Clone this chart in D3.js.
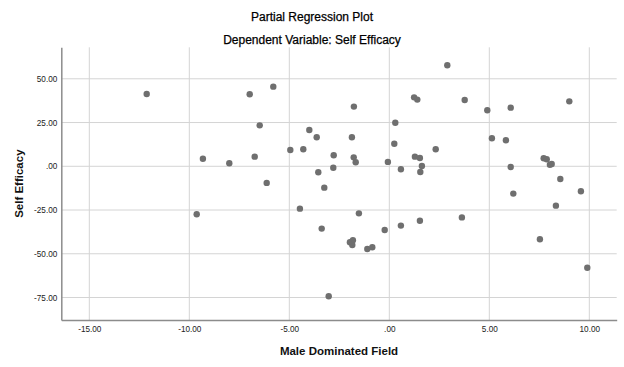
<!DOCTYPE html>
<html><head><meta charset="utf-8">
<script src="https://cdn.jsdelivr.net/npm/d3@7/dist/d3.min.js"></script>
<style>body{margin:0;background:#fff}svg{display:block}</style>
</head><body>
<script>
const xVals = [-12.13,-9.63,-6.98,-5.80,-1.77,-6.48,-4.00,-3.63,-1.87,0.30,0.25,-4.95,-4.30,-2.78,-1.78,-1.68,-0.07,-9.32,-8.00,-6.73,-2.80,-3.55,-6.13,-3.25,0.58,-4.47,-1.52,-3.38,-0.23,-1.97,-1.82,-1.85,-1.10,-0.85,-3.03,2.90,1.24,1.40,3.77,4.90,6.07,9.00,5.13,5.83,2.32,1.28,1.53,1.63,1.55,6.07,7.72,7.87,8.03,8.12,8.55,9.58,6.20,8.33,0.58,1.53,3.63,7.53,9.90];
const yVals = [41.3,-27.4,41.2,45.5,34.1,23.4,20.7,16.6,16.6,24.9,12.9,9.3,9.7,6.3,5.1,2.3,2.5,4.3,1.7,5.5,-0.8,-3.4,-9.5,-12.2,-1.7,-24.2,-26.9,-35.6,-36.4,-43.4,-42.3,-45.0,-47.3,-46.3,-74.3,57.7,39.4,38.1,37.9,32.0,33.5,37.1,16.0,14.9,9.7,5.5,4.7,0.2,-3.3,-0.4,4.6,4.0,0.9,1.3,-7.3,-14.3,-15.6,-22.5,-33.9,-31.1,-29.2,-41.7,-58.0];
const xTicks = [-15,-10,-5,0,5,10];
const yTicks = [-75,-50,-25,0,25,50];
const titleText = "Partial Regression Plot";
const subtitleText = "Dependent Variable: Self Efficacy";
const xLabel = "Male Dominated Field";
const yLabel = "Self Efficacy";

const W = 624, H = 367;
const L = 61.3, R = 616.7, T = 47.3, B = 320;
const svg = d3.select("body").append("svg").attr("width", W).attr("height", H)
  .style("font-family", "'Liberation Sans', Arial, sans-serif");

const x = d3.scaleLinear().domain([-16.4, 11.37]).range([L, R]);
const y = d3.scaleLinear().domain([-87.85, 68.0]).range([B, T]);

const fmt = v => { let s = Math.abs(v).toFixed(2); if (s.startsWith("0")) s = s.slice(1); return (v < 0 ? "-" : "") + s; };

// grid
svg.append("g").selectAll("line").data(xTicks).join("line")
  .attr("x1", d => x(d)).attr("x2", d => x(d)).attr("y1", T).attr("y2", B)
  .attr("stroke", "#d4d4d4").attr("stroke-width", 1);
svg.append("g").selectAll("line").data(yTicks).join("line")
  .attr("x1", L).attr("x2", R).attr("y1", d => y(d)).attr("y2", d => y(d))
  .attr("stroke", "#d4d4d4").attr("stroke-width", 1);

// axes
const xAxis = svg.append("g").attr("transform", `translate(0,${B})`)
  .call(d3.axisBottom(x).tickValues(xTicks).tickFormat(fmt).tickSize(0).tickPadding(6));
const yAxis = svg.append("g").attr("transform", `translate(${L},0)`)
  .call(d3.axisLeft(y).tickValues(yTicks).tickFormat(fmt).tickSize(0).tickPadding(4));
[xAxis, yAxis].forEach(g => {
  g.select(".domain").attr("stroke", "#8c8c8c").attr("stroke-width", 1.5);
  g.selectAll("text").attr("font-size", 8.2).attr("fill", "#222").style("font-family", "'Liberation Sans', Arial, sans-serif");
});

// points
svg.append("g").selectAll("circle").data(xVals.map((v, i) => [v, yVals[i]])).join("circle")
  .attr("cx", d => x(d[0])).attr("cy", d => y(d[1])).attr("r", 3.2)
  .attr("fill", "#6f6f6f");

// titles
svg.append("text").attr("x", 312).attr("y", 21).attr("text-anchor", "middle")
  .attr("font-size", 12).attr("fill", "#000").attr("stroke", "#000").attr("stroke-width", 0.25).text(titleText);
svg.append("text").attr("x", 312).attr("y", 44).attr("text-anchor", "middle")
  .attr("font-size", 12).attr("fill", "#000").attr("stroke", "#000").attr("stroke-width", 0.25).text(subtitleText);
svg.append("text").attr("x", (L + R) / 2).attr("y", 355).attr("text-anchor", "middle")
  .attr("font-size", 11.5).attr("font-weight", "bold").attr("fill", "#111").text(xLabel);
svg.append("text").attr("transform", `translate(23,${(T + B) / 2}) rotate(-90)`).attr("text-anchor", "middle")
  .attr("font-size", 11.5).attr("font-weight", "bold").attr("fill", "#111").text(yLabel);
</script>
</body></html>
